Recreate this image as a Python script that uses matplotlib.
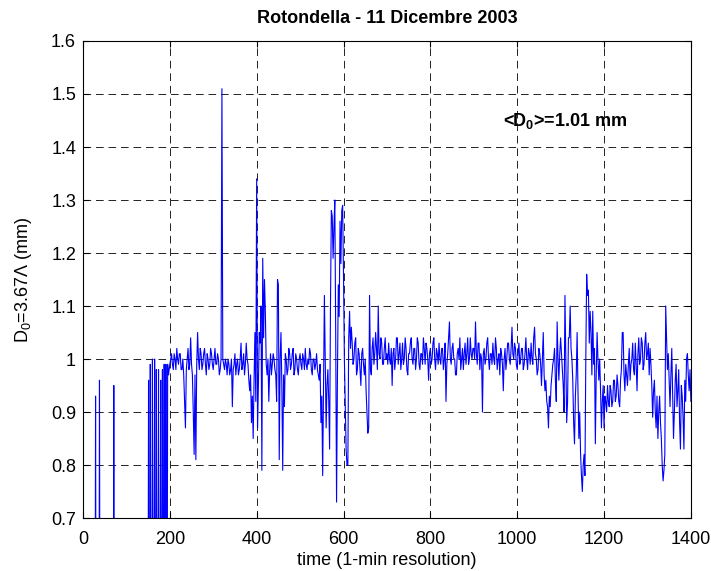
import numpy as np
import matplotlib
matplotlib.use("Agg")
import matplotlib.pyplot as plt
from matplotlib.ticker import FormatStrFormatter

# early part of the day (before 200 min): mostly dry, isolated spikes (D0 = 0 when no rain)
t_early = [0, 1, 27, 29, 31, 36, 38, 40, 69, 71, 73,
           149, 151, 153, 155, 157, 160, 162, 165, 167, 169, 171, 174, 176,
           179, 181, 183, 185, 187, 189, 191, 193, 195, 197]
d_early = [76, 0, 0, 93, 0, 0, 96, 0, 0, 95, 0,
           0, 96, 0, 99, 0, 100, 0, 100, 0, 98, 0, 98, 0,
           96, 0, 98, 0, 99, 0, 99, 0, 99, 97]

# from 200 min onwards, one value every 2 min (hundredths of mm), one block per 100 min
d_200 = [99, 100, 101, 99, 98, 101, 100, 98, 102, 100, 99, 101, 101, 98, 98, 100, 97, 92, 87, 98,
         100, 102, 98, 99, 104, 99, 97, 90, 82, 97, 81, 99, 105, 100, 98, 102, 101, 98, 99, 101,
         102, 99, 97, 101, 100, 98, 99, 102, 101, 99]
d_300 = [98, 100, 102, 99, 99, 101, 100, 97, 98, 100, 151, 100, 99, 98, 100, 99, 97, 100, 99, 97,
         98, 100, 91, 98, 99, 101, 97, 99, 100, 97, 98, 100, 103, 98, 99, 101, 97, 99, 103, 100,
         99, 96, 94, 97, 88, 93, 85, 96, 105, 92]
d_400 = [134, 87, 95, 105, 103, 110, 79, 119, 104, 115, 109, 99, 97, 100, 92, 98, 101, 97, 99, 101,
         100, 98, 97, 92, 115, 114, 81, 100, 105, 95, 79, 97, 91, 101, 100, 97, 98, 102, 101, 98,
         99, 101, 102, 97, 98, 101, 100, 98, 97, 100]
d_500 = [101, 99, 98, 101, 100, 98, 102, 99, 98, 100, 99, 102, 101, 98, 97, 100, 100, 98, 99, 101,
         98, 97, 96, 99, 88, 93, 78, 96, 112, 100, 87, 95, 98, 92, 83, 110, 128, 127, 119, 125,
         130, 105, 73, 96, 114, 108, 126, 118, 128, 129]
d_600 = [116, 100, 91, 83, 80, 80, 104, 109, 102, 106, 103, 99, 100, 103, 104, 97, 98, 102, 101, 98,
         95, 101, 102, 99, 97, 100, 94, 90, 86, 87, 112, 98, 97, 102, 104, 99, 101, 105, 102, 98,
         110, 101, 100, 104, 103, 99, 99, 102, 104, 100]
d_700 = [101, 99, 103, 100, 99, 102, 95, 101, 102, 98, 100, 104, 104, 99, 101, 103, 98, 100, 103, 99,
         100, 104, 102, 98, 97, 101, 101, 103, 104, 100, 99, 102, 102, 98, 100, 104, 103, 99, 98, 101,
         101, 99, 104, 102, 99, 103, 102, 100, 96, 101]
d_800 = [102, 99, 100, 103, 104, 100, 98, 102, 101, 99, 103, 100, 99, 102, 102, 98, 100, 103, 92, 99,
         101, 104, 107, 100, 99, 102, 103, 100, 100, 97, 97, 101, 102, 100, 104, 98, 100, 102, 98, 101,
         103, 99, 101, 104, 99, 100, 104, 101, 100, 102]
d_900 = [102, 100, 107, 101, 99, 103, 103, 98, 101, 100, 90, 101, 102, 99, 100, 103, 104, 100, 98, 101,
         101, 99, 103, 100, 99, 104, 102, 98, 100, 101, 97, 102, 101, 99, 94, 100, 102, 98, 100, 103,
         103, 100, 99, 102, 106, 101, 100, 103, 102, 99]
d_1000 = [98, 101, 103, 99, 100, 102, 102, 98, 99, 101, 104, 100, 98, 102, 101, 99, 103, 100, 99, 104,
          106, 101, 100, 97, 98, 102, 101, 99, 95, 100, 105, 97, 94, 96, 92, 91, 87, 93, 91, 95,
          97, 99, 100, 102, 96, 92, 107, 100, 96, 101]
d_1100 = [104, 101, 98, 95, 90, 112, 100, 88, 92, 104, 104, 110, 102, 100, 96, 88, 84, 93, 97, 105,
          94, 85, 90, 82, 78, 75, 80, 82, 78, 100, 116, 112, 113, 103, 109, 105, 97, 109, 99, 102,
          84, 97, 105, 100, 96, 100, 94, 87, 92, 95]
d_1200 = [87, 93, 92, 90, 95, 92, 91, 95, 94, 91, 92, 96, 96, 92, 93, 97, 95, 92, 91, 96,
          98, 105, 105, 97, 94, 99, 97, 95, 99, 102, 96, 99, 100, 103, 98, 97, 103, 99, 94, 101,
          104, 99, 100, 104, 103, 98, 99, 103, 105, 100]
d_1300 = [101, 103, 97, 102, 99, 95, 89, 94, 96, 90, 87, 93, 85, 90, 93, 88, 85, 80, 77, 79,
          82, 110, 104, 98, 101, 96, 91, 97, 102, 93, 85, 90, 96, 99, 91, 94, 98, 88, 83, 95,
          93, 89, 83, 96, 92, 100, 101, 97, 94, 98, 92]

blocks = [(200, d_200), (300, d_300), (400, d_400), (500, d_500), (600, d_600), (700, d_700),
          (800, d_800), (900, d_900), (1000, d_1000), (1100, d_1100), (1200, d_1200), (1300, d_1300)]

t = [np.asarray(t_early, dtype=float)]
d0 = [np.asarray(d_early, dtype=float)]
for start, vals in blocks:
    t.append(start + 2.0 * np.arange(len(vals)))
    d0.append(np.asarray(vals, dtype=float))
t = np.concatenate(t)
d0 = np.concatenate(d0) / 100.0

plt.rcParams["font.family"] = ["Liberation Sans", "DejaVu Sans"]
plt.rcParams["mathtext.fontset"] = "custom"
plt.rcParams["mathtext.rm"] = "Liberation Sans"
plt.rcParams["mathtext.it"] = "Liberation Sans:italic"
plt.rcParams["mathtext.bf"] = "Liberation Sans:bold"
plt.rcParams["lines.scale_dashes"] = False

fig = plt.figure(figsize=(7.11, 5.71), dpi=100)
ax = fig.add_axes([0.1167, 0.0928, 0.855, 0.8354])
ax.plot(t, d0, color="#0000ff", lw=0.8)

ax.set_xlim(0, 1400)
ax.set_ylim(0.7, 1.6)
ax.set_xticks(np.arange(0, 1401, 200))
ax.set_yticks(np.arange(0.7, 1.61, 0.1))
ax.yaxis.set_major_formatter(FormatStrFormatter("%g"))
ax.tick_params(direction="in", top=True, right=True, labelsize=13, length=4)
ax.tick_params(axis="x", pad=9)
ax.tick_params(axis="y", pad=5)
ax.grid(True, color="black", ls=(0, (5.5, 3.5)), lw=0.6)

ax.set_title("Rotondella - 11 Dicembre 2003", fontsize=13, fontweight="bold", pad=13)
ax.set_xlabel("time (1-min resolution)", fontsize=13, labelpad=3)
ax.set_ylabel("D$_0$=3.67Λ (mm)", fontsize=13, labelpad=12)
ax.text(967, 1.45, r"<D$_\mathbf{0}$>=1.01 mm", fontsize=13, fontweight="bold", va="center", ha="left")

for s in ax.spines.values():
    s.set_linewidth(0.8)

fig.savefig("out.png", dpi=100)
